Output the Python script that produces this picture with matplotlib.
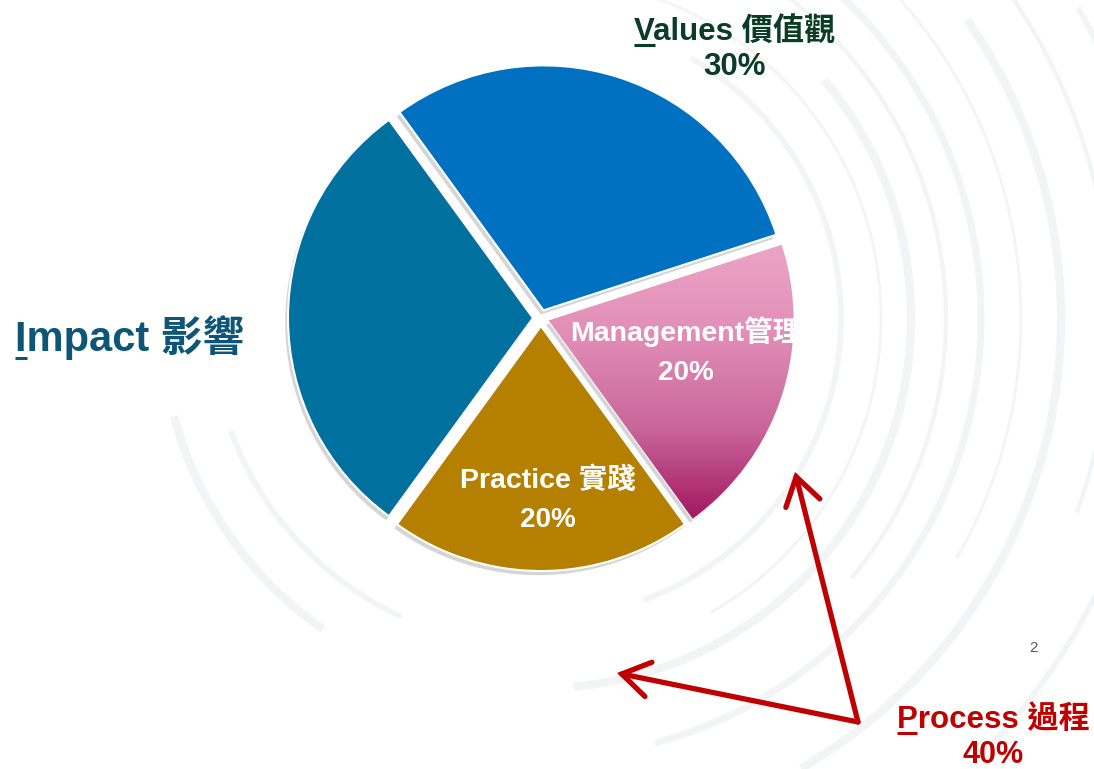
import numpy as np
import matplotlib
matplotlib.use("Agg")
import matplotlib.pyplot as plt
from matplotlib.patches import Arc
from matplotlib.colors import LinearSegmentedColormap
import matplotlib.patheffects as pe

# ---- data ----
categories = ["Values", "Management", "Practice", "Impact"]
shares = [30, 20, 20, 30]
label_cn = ["價值觀", "管理", "實踐", "影響"]
process_share = 40

FAM = ["Liberation Sans", "Noto Sans CJK TC"]
W, H = 1094, 769

fig = plt.figure(figsize=(W / 100, H / 100), dpi=100)
ax = fig.add_axes([0, 0, 1, 1])
ax.set_xlim(0, W)
ax.set_ylim(0, H)
ax.set_aspect("equal")
ax.axis("off")

def Y(y):
    return H - y

# faint brush-stroke background arcs
bg = "#F3F4F5"
for r, t1, t2, lw in [(300, -70, 60, 4), (340, -60, 75, 2), (370, -85, 40, 6), (405, -40, 70, 3),
                      (440, -75, 55, 5), (480, -30, 80, 2), (520, -60, 35, 6), (570, -20, 60, 3),
                      (620, -45, 30, 4), (330, 200, 245, 4), (380, 195, 235, 6)]:
    ax.add_patch(Arc((541, Y(318)), 2 * r, 2 * r, theta1=t1, theta2=t2, color=bg, lw=lw, zorder=0))

colors = ["#0070C0", "#D67FAA", "#B58000", "#00709F"]
wedges, _ = ax.pie(shares, colors=colors, startangle=126, counterclock=False,
                   explode=[8] * 4, radius=245, center=(541, Y(318)),
                   wedgeprops=dict(edgecolor="white", linewidth=1.5))
for w in wedges:
    w.set_zorder(2)
    w.set_path_effects([pe.SimplePatchShadow(offset=(-2, -3), shadow_rgbFace="#888888", alpha=0.35),
                        pe.Normal()])

# gradient on Management wedge
mg = wedges[1]
cmap = LinearSegmentedColormap.from_list("pk", ["#A0125E", "#C9669A", "#E28FB8", "#ECA6C7"])
grad = np.linspace(0, 1, 256).reshape(-1, 1)
im = ax.imshow(grad, extent=[520, 820, Y(525), Y(235)], origin="lower", cmap=cmap,
               aspect="auto", zorder=3)
im.set_clip_path(mg)
ax.set_xlim(0, W)
ax.set_ylim(0, H)

def underlined(x, y, first, rest, size, color):
    t = ax.text(x, y, first + rest, fontsize=size, fontweight="bold", color=color,
                family=FAM, ha="center", va="baseline", zorder=6)
    fig.canvas.draw()
    r = fig.canvas.get_renderer()
    bb = t.get_window_extent(r)
    tmp = ax.text(0, 0, first, fontsize=size, fontweight="bold", family=FAM)
    fw = tmp.get_window_extent(r).width
    tmp.remove()
    inv = ax.transData.inverted()
    x0, _ = inv.transform((bb.x0, 0))
    x1, _ = inv.transform((bb.x0 + fw, 0))
    ax.plot([x0, x1], [y - size * 0.22, y - size * 0.22], color=color, lw=2.2,
            solid_capstyle="butt", zorder=6)

# Values label
underlined(735, Y(40), categories[0][0], categories[0][1:] + " " + label_cn[0], 22.5, "#0B3D26")
ax.text(735, Y(67), f"{shares[0]}%", fontsize=22.5, fontweight="bold", color="#0B3D26",
        family=FAM, ha="center", va="center", zorder=6)

# Impact label
underlined(130, Y(351), categories[3][0], categories[3][1:] + " " + label_cn[3], 30, "#0E5577")

# Management
ax.text(686, Y(332), categories[1] + label_cn[1], fontsize=20.5, fontweight="bold", color="white",
        family=FAM, ha="center", va="center", zorder=6)
ax.text(686, Y(373), f"{shares[1]}%", fontsize=20, fontweight="bold", color="white",
        family=FAM, ha="center", va="center", zorder=6)

# Practice
ax.text(548, Y(480), categories[2] + " " + label_cn[2], fontsize=20.5, fontweight="bold", color="white",
        family=FAM, ha="center", va="center", zorder=6)
ax.text(548, Y(520), f"{shares[2]}%", fontsize=20, fontweight="bold", color="white",
        family=FAM, ha="center", va="center", zorder=6)

# Process label
underlined(993, Y(728), "P", "rocess 過程", 22.5, "#C00000")
ax.text(993, Y(755), f"{process_share}%", fontsize=22, fontweight="bold", color="#C00000",
        family=FAM, ha="center", va="center", zorder=6)

# arrows
for tx, ty in [(795, 472), (617, 673)]:
    ax.annotate("", xy=(tx, Y(ty)), xytext=(858, Y(722)),
                arrowprops=dict(arrowstyle="->,head_length=0.7,head_width=0.45", color="#C00000",
                                lw=3.8, shrinkA=0, shrinkB=0, mutation_scale=28, capstyle="round",
                                joinstyle="miter"), zorder=5)

# page number
ax.text(1033, Y(648), "2", fontsize=11, color="#595959", family=FAM, ha="center", va="center")

fig.savefig("out.png", dpi=100, facecolor="white")
